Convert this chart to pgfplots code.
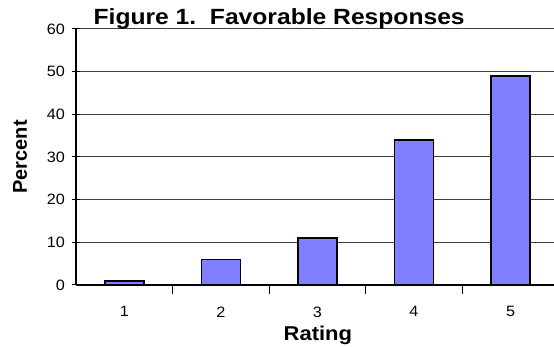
\documentclass[border=0pt]{standalone}
\usepackage{fontspec}
\setmainfont{Liberation Sans}
\usepackage{pgfplots}
\pgfplotsset{compat=1.18}
\definecolor{barblue}{RGB}{128,128,255}
\begin{document}
\begin{tikzpicture}[x=1pt,y=1pt]
\useasboundingbox (-76,-62) rectangle (478,285);
\begin{axis}[
  at={(0,0)}, anchor=south west,
  scale only axis, width=478pt, height=256pt,
  xmin=0.5, xmax=5.45, ymin=0, ymax=60,
  axis lines*=left,
  axis line style={black, line width=1.2pt},
  clip=false,
  ytick={0,10,...,60},
  ymajorgrids,
  major grid style={black!75, line width=1pt},
  xtick={1,2,3,4,5},
  minor xtick={1.5,2.5,3.5,4.5},
  major x tick style={draw=none},
  minor x tick style={black, line width=1pt},
  major y tick style={black, line width=1pt},
  tick align=center,
  major tick length=8pt,
  minor tick length=9pt,
  tick label style={font=\fontsize{15}{15}\selectfont, xscale=1.08},
  /pgf/number format/assume math mode=true,
  xticklabel style={yshift=-10pt},
  yticklabel style={xshift=-3pt},
  xlabel={Rating},
  ylabel={Percent},
  xlabel style={at={(axis description cs:0.506,-0.215)}, anchor=base,
    font=\bfseries\fontsize{20}{20}\selectfont, xscale=1.1},
  ylabel style={at={(axis description cs:-0.117,0.5)}, anchor=center,
    font=\bfseries\fontsize{20}{20}\selectfont},
  ybar, bar width=39pt,
]
\addplot[fill=barblue, draw=black, line width=1.6pt]
  coordinates {(1,1) (2,6) (3,11) (4,34) (5,49)};
\node[anchor=base, font=\bfseries\fontsize{22}{22}\selectfont, xscale=1.12]
  at (rel axis cs:0.425,1.016) {Figure 1.\ \ Favorable Responses};
\end{axis}
\end{tikzpicture}
\end{document}
